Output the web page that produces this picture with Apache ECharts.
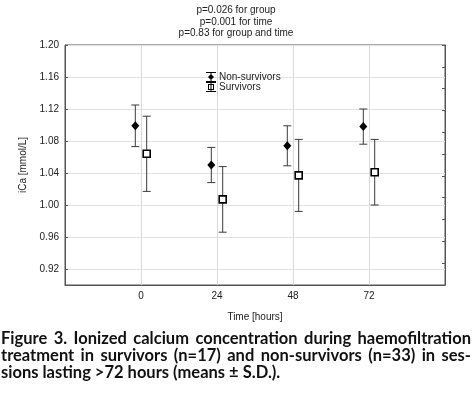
<!DOCTYPE html>
<html>
<head>
<meta charset="utf-8">
<script src="https://cdn.jsdelivr.net/npm/echarts@6/dist/echarts.min.js"></script>
<style>
  html, body { margin: 0; padding: 0; background: #fff; }
  #chart { width: 472px; height: 397px; }
</style>
</head>
<body>
<div id="chart"></div>
<script>
// time points (hours)
const times = [0, 24, 48, 72];
// non-survivors, mean and S.D.
const nsMean = [1.099, 1.050, 1.074, 1.098];
const nsSD = [0.026, 0.022, 0.025, 0.022];
// survivors, mean and S.D.
const sMean = [1.064, 1.007, 1.037, 1.041];
const sSD = [0.047, 0.041, 0.045, 0.041];
// y tick labels
const yTicks = [0.92, 0.96, 1.00, 1.04, 1.08, 1.12, 1.16, 1.20];

const titleLines = ['p=0.026 for group', 'p=0.001 for time', 'p=0.83 for group and time'];
const captionLines = [
  'Figure 3. Ionized calcium concentration during haemofiltration',
  'treatment in survivors (n=17) and non-survivors (n=33) in ses-',
  'sions lasting >72 hours (means \u00b1 S.D.).'
];

const SHIFT = 1.8; // hours, side-by-side offset of the two groups
const AXIS_FONT = 'Liberation Sans, Arial, sans-serif';
const CAP_FONT = 'bold 16.5px Lato';
const GRID_COLOR = '#dadada';

// justified caption lines, word by word
function captionGraphics() {
  const ctx = document.createElement('canvas').getContext('2d');
  ctx.font = CAP_FONT;
  const out = [];
  captionLines.forEach((line, li) => {
    const y = 330 + li * 17.3;
    const words = line.split(' ');
    const widths = words.map(w => ctx.measureText(w).width);
    const total = widths.reduce((a, b) => a + b, 0);
    let gap = ctx.measureText(' ').width;
    if (li < captionLines.length - 1) gap = (470 - total) / (words.length - 1);
    let x = 1;
    words.forEach((w, i) => {
      out.push({
        type: 'text', left: x, top: y,
        style: { text: w, font: CAP_FONT, fill: '#111' }
      });
      x += widths[i] + gap;
    });
  });
  return out;
}

function errorBars(name, mean, sd, shift) {
  return {
    type: 'custom',
    name: name,
    xAxisIndex: 0,
    yAxisIndex: 0,
    z: 2,
    data: times.map((t, i) => [t + shift, mean[i] - sd[i], mean[i] + sd[i]]),
    encode: { x: 0, y: [1, 2] },
    renderItem: function (params, api) {
      const x = api.value(0);
      const lo = api.coord([x, api.value(1)]);
      const hi = api.coord([x, api.value(2)]);
      const w = 4;
      const st = { stroke: '#3a3a3a', lineWidth: 1 };
      return {
        type: 'group',
        children: [
          { type: 'line', shape: { x1: hi[0], y1: hi[1], x2: lo[0], y2: lo[1] }, style: st },
          { type: 'line', shape: { x1: hi[0] - w, y1: hi[1], x2: hi[0] + w, y2: hi[1] }, style: st },
          { type: 'line', shape: { x1: lo[0] - w, y1: lo[1], x2: lo[0] + w, y2: lo[1] }, style: st }
        ]
      };
    }
  };
}

// vertical grid lines at the time points, placed through the x axis
const timeGrid = {
  type: 'custom',
  name: 'timeGrid',
  xAxisIndex: 0,
  yAxisIndex: 0,
  z: 1,
  silent: true,
  data: times.map(t => [t, 0.9]),
  encode: { x: 0, y: 1 },
  renderItem: function (params, api) {
    const p = api.coord([api.value(0), api.value(1)]);
    const cs = params.coordSys;
    const x = Math.round(p[0]) + 0.5;
    return {
      type: 'line',
      shape: { x1: x, y1: cs.y, x2: x, y2: cs.y + cs.height },
      style: { stroke: GRID_COLOR, lineWidth: 1 }
    };
  }
};

const chart = echarts.init(document.getElementById('chart'));

const frameLine = () => ({ show: true, onZero: false, lineStyle: { color: '#555', width: 1 } });
const frameTick = () => ({ show: true, inside: true, length: 3, lineStyle: { color: '#555' } });

const option = {
  animation: false,
  backgroundColor: '#fff',
  title: {
    text: titleLines.join('\n'),
    left: 'center',
    top: 0,
    textStyle: { fontFamily: AXIS_FONT, fontSize: 10, fontWeight: 'normal', color: '#222', lineHeight: 11.3 }
  },
  legend: {
    orient: 'vertical',
    left: 201,
    top: 67,
    itemWidth: 10,
    itemHeight: 10,
    itemGap: 0,
    textStyle: { fontFamily: AXIS_FONT, fontSize: 10, color: '#222', padding: [0, 0, 0, -2] },
    data: [
      {
        name: 'Non-survivors',
        icon: 'path://M0,0H10V1H0Z M0,9H10V10H0Z M4.5,0H5.5V10H4.5Z M5,2L8,5L5,8L2,5Z',
        itemStyle: { color: '#000', borderWidth: 0 }
      },
      {
        name: 'Survivors',
        icon: 'path://M0,0H10V1H0Z M0,9H10V10H0Z M4.5,0H5.5V10H4.5Z M2,2H8V8H2Z M3,3V7H7V3Z',
        itemStyle: { color: '#000', borderWidth: 0 }
      }
    ]
  },
  grid: {
    left: 65, right: 27, top: 45, bottom: 112, containLabel: false,
    show: true, borderColor: '#555', borderWidth: 1, backgroundColor: 'transparent'
  },
  xAxis: {
    type: 'value',
    position: 'bottom',
    min: -24, max: 96, interval: 24,
    name: 'Time [hours]',
    nameLocation: 'middle',
    nameGap: 27,
    nameTextStyle: { fontFamily: AXIS_FONT, fontSize: 10, color: '#222' },
    axisLine: frameLine(),
    axisTick: frameTick(),
    axisLabel: {
      fontFamily: AXIS_FONT, fontSize: 10, color: '#222', margin: 6,
      formatter: v => (v >= 0 && v <= 72 ? String(v) : '')
    },
    splitLine: { show: false }
  },
  yAxis: [
    {
      type: 'value',
      position: 'left',
      min: 0.90, max: 1.20,
      name: 'iCa [mmol/L]',
      nameLocation: 'middle',
      nameGap: 35,
      nameTextStyle: { fontFamily: AXIS_FONT, fontSize: 10, color: '#222' },
      axisLine: frameLine(),
      axisTick: Object.assign(frameTick(), { customValues: yTicks }),
      axisLabel: {
        fontFamily: AXIS_FONT, fontSize: 10, color: '#222', margin: 6,
        customValues: yTicks,
        formatter: v => v.toFixed(2)
      },
      splitLine: { show: true, lineStyle: { color: '#e2e2e2', width: 1 } }
    },
    {
      type: 'value',
      position: 'right',
      min: 0, max: 11, interval: 1,
      axisLine: frameLine(),
      axisTick: frameTick(),
      axisLabel: { show: false },
      splitLine: { show: false }
    }
  ],
  series: [
    timeGrid,
    errorBars('nsBars', nsMean, nsSD, -SHIFT),
    errorBars('sBars', sMean, sSD, SHIFT),
    {
      name: 'Non-survivors',
      type: 'scatter',
      z: 3,
      symbol: 'diamond',
      symbolSize: [8, 9],
      itemStyle: { color: '#000', opacity: 1 },
      data: times.map((t, i) => [t - SHIFT, nsMean[i]])
    },
    {
      name: 'Survivors',
      type: 'scatter',
      z: 3,
      symbol: 'rect',
      symbolSize: 7,
      itemStyle: { color: '#fff', borderColor: '#000', borderWidth: 1.6, opacity: 1 },
      data: times.map((t, i) => [t + SHIFT, sMean[i]])
    }
  ],
  graphic: captionGraphics()
};

chart.setOption(option);
</script>
</body>
</html>
